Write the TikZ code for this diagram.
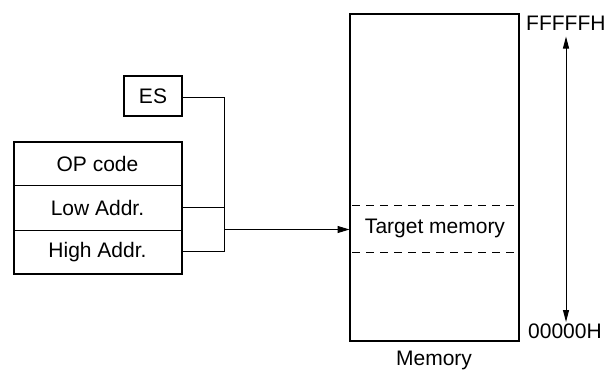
\documentclass[tikz,border=0pt]{standalone}
\usepackage{fontspec}
\setmainfont{Liberation Sans}
\usetikzlibrary{arrows.meta}
\begin{document}
\begin{tikzpicture}[x=1pt,y=-1pt,
  thickbox/.style={draw,line width=2pt},
  thin/.style={line width=1pt},
  lbl/.style={font=\fontsize{21}{24}\selectfont, inner sep=0pt},
  arr/.style={thin,-{Triangle[length=12pt,width=7pt]}},
  darr/.style={thin,{Triangle[length=12pt,width=6pt]}-{Triangle[length=12pt,width=6pt]}}]
\useasboundingbox (0,0) rectangle (609,380);
% ES box
\draw[thickbox] (124,75.5) rectangle (182,116);
\node[lbl] (es) at (153,96) {ES};
\coordinate (esr) at (182,97.5);
% instruction table
\draw[thickbox] (13.5,142) rectangle (182,274);
\draw[thin] (13.5,185.5) -- (182,185.5);
\draw[thin] (13.5,230) -- (182,230);
\node[lbl] (op) at (97.5,164) {OP code};
\node[lbl] (low) at (97.5,208) {Low Addr.};
\node[lbl] (high) at (97.5,252) {High Addr.};
\coordinate (lowr) at (182,207.5);
\coordinate (highr) at (182,251);
\coordinate (jtop) at (224.5,97.5);
\coordinate (jlow) at (224.5,207.5);
\coordinate (jbot) at (224.5,251);
\coordinate (jmid) at (224.5,229.5);
\draw[thin] (esr) -- (jtop) -- (jbot) -- (highr);
\draw[thin] (lowr) -- (jlow);
% memory
\draw[thickbox] (349.5,13.5) rectangle (518.5,340.5);
\coordinate (meml) at (349.5,229.5);
\draw[arr] (jmid) -- (meml);
\draw[thin,dash pattern=on 8pt off 6pt] (352,205) -- (516,205);
\draw[thin,dash pattern=on 8pt off 6pt] (352,252.5) -- (516,252.5);
\node[lbl] (tm) at (435,228.5) {Target memory};
\node[lbl,anchor=west] (ff) at (526,23) {FFFFFH};
\node[lbl,anchor=west] (zz) at (528,331.5) {00000H};
\coordinate (atop) at (566,36.5);
\coordinate (abot) at (566,322);
\draw[darr] (atop) -- (abot);
\node[lbl] (mem) at (434,360) {Memory};
\end{tikzpicture}
\end{document}
